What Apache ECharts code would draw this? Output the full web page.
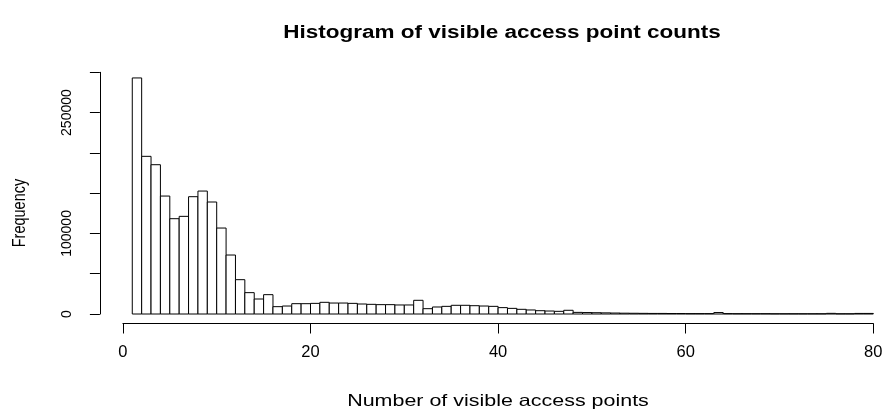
<!DOCTYPE html>
<html>
<head>
<meta charset="utf-8">
<script src="https://cdn.jsdelivr.net/npm/echarts@6/dist/echarts.min.js"></script>
<style>
  html, body { margin: 0; padding: 0; background: #fff; }
  #chart { width: 887px; height: 416px; }
</style>
</head>
<body>
<div id="chart"></div>
<script>
// Bin edges: unit-wide bins from 1 to 80
const binStarts = [];
for (let b = 1; b <= 79; b++) binStarts.push(b);

// Frequency of each bin (number of scans seeing that many access points)
const frequencies = [
  293000, 195700, 185300, 146400, 118300, 121200, 145600, 152600, 139000, 106700,
  73200, 42600, 26500, 18600, 24000, 9100, 9900, 12800, 12800, 13200,
  14500, 13600, 13600, 13200, 12400, 12000, 11600, 11600, 11200, 11200,
  17000, 6600, 8700, 9500, 10800, 10800, 10300, 9900, 9500, 7900,
  7000, 5800, 5000, 4100, 3700, 3300, 4600, 2000, 1800, 1600,
  1400, 1200, 1000, 900, 800, 700, 700, 600, 600, 500,
  500, 500, 1800, 500, 400, 400, 400, 400, 300, 300,
  300, 300, 300, 300, 800, 300, 300, 700, 700
];

const xTicks = [0, 20, 40, 60, 80];
const yTickLabels = [0, 100000, 250000];

const titleText = 'Histogram of visible access point counts';
const xTitle = 'Number of visible access points';
const yTitle = 'Frequency';

const rows = binStarts.map((s, i) => [s, s + 1, frequencies[i]]);

const FONT = '"Liberation Sans", Arial, Helvetica, sans-serif';

const chart = echarts.init(document.getElementById('chart'), null, { renderer: 'canvas' });

chart.setOption({
  animation: false,
  backgroundColor: '#ffffff',
  grid: { left: 122.9, right: 13.7, top: 72.3, bottom: 102 },
  graphic: [
    {
      type: 'text',
      x: 502, y: 33, scaleX: 1.25,
      style: {
        text: titleText, fill: '#000',
        font: 'bold 18px ' + FONT,
        textAlign: 'center', textVerticalAlign: 'middle'
      }
    },
    {
      type: 'text',
      x: 498, y: 401, scaleX: 1.3,
      style: {
        text: xTitle, fill: '#000',
        font: '16.5px ' + FONT,
        textAlign: 'center', textVerticalAlign: 'middle'
      }
    },
    {
      type: 'text',
      x: 20, y: 213, rotation: Math.PI / 2, scaleY: 1.25,
      style: {
        text: yTitle, fill: '#000',
        font: '14.5px ' + FONT,
        textAlign: 'center', textVerticalAlign: 'middle'
      }
    }
  ],
  xAxis: {
    type: 'value',
    min: xTicks[0], max: xTicks[xTicks.length - 1], interval: 20,
    offset: 9.5,
    axisLine: { show: true, onZero: false, lineStyle: { color: '#000', width: 1 } },
    axisTick: { show: true, length: 10, lineStyle: { color: '#000' } },
    axisLabel: {
      color: '#000', fontFamily: FONT, fontSize: 16.5, margin: 20,
      formatter: v => (xTicks.indexOf(v) >= 0 ? String(v) : '')
    },
    splitLine: { show: false }
  },
  yAxis: {
    type: 'value',
    min: 0, max: 300000, interval: 50000,
    offset: 23,
    axisLine: { show: true, onZero: false, lineStyle: { color: '#000', width: 1 } },
    axisTick: { show: true, length: 10, lineStyle: { color: '#000' } },
    axisLabel: {
      color: '#000', fontFamily: FONT, fontSize: 14, margin: 26, rotate: 90,
      formatter: v => (yTickLabels.indexOf(v) >= 0 ? String(v) : '')
    },
    splitLine: { show: false }
  },
  series: [{
    type: 'custom',
    data: rows,
    encode: { x: [0, 1], y: 2 },
    clip: false,
    renderItem: (params, api) => {
      const top = api.coord([api.value(0), api.value(2)]);
      const bot = api.coord([api.value(1), 0]);
      return {
        type: 'rect',
        shape: { x: top[0], y: top[1], width: bot[0] - top[0], height: bot[1] - top[1] },
        style: { fill: '#ffffff', stroke: '#000000', lineWidth: 1 }
      };
    }
  }]
});
</script>
</body>
</html>
